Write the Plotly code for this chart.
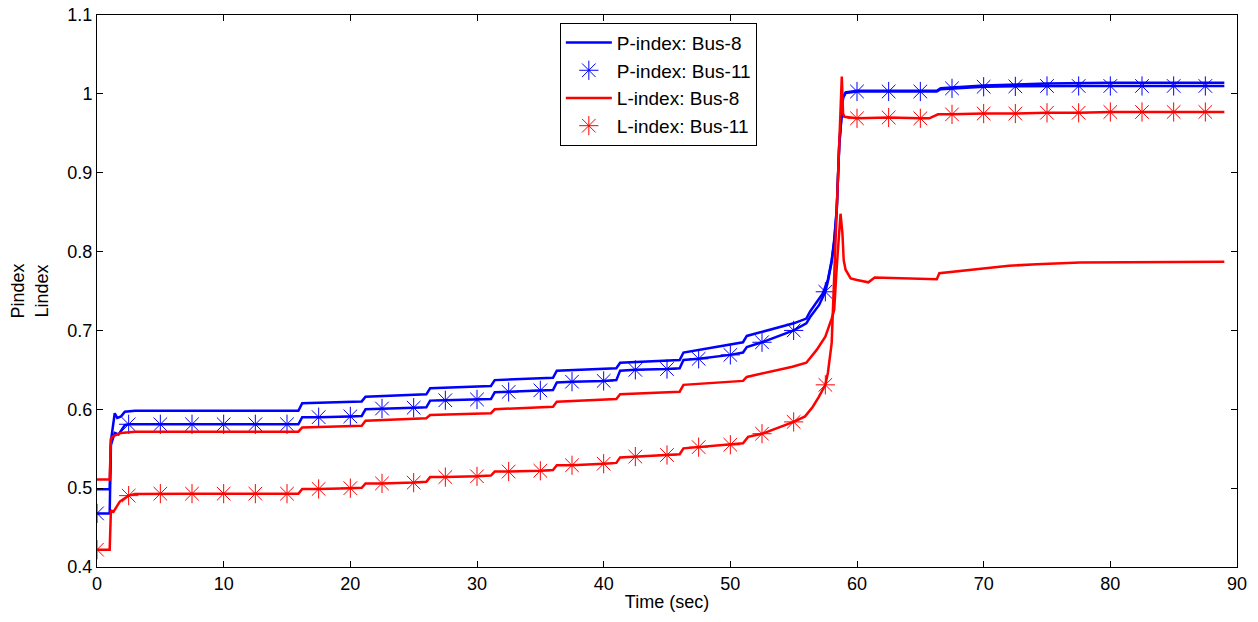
import plotly.graph_objects as go

# ---------------- data ----------------
p8_t = [0, 1.0, 1.1, 1.4, 1.6, 1.9, 2.2, 3.0, 15.9, 16.2, 20.9, 21.2, 26.0, 26.3, 31.1, 31.4,
        36.0, 36.3, 41.0, 41.3, 46.0, 46.3, 51.0, 51.3, 55.0, 56.0, 56.3, 56.8, 57.3, 57.7,
        58.0, 58.2, 58.4, 58.6, 58.9, 59.1, 60, 66.3, 66.6, 70, 75, 80, 89]
p8_v = [0.4985, 0.4985, 0.560, 0.595, 0.589, 0.591, 0.597, 0.598, 0.598, 0.6076, 0.610, 0.616,
        0.619, 0.6266, 0.6295, 0.637, 0.640, 0.649, 0.652, 0.659, 0.6625, 0.672, 0.685, 0.693,
        0.709, 0.715, 0.724, 0.735, 0.747, 0.764, 0.789, 0.812, 0.853, 0.937, 0.996, 1.002,
        1.004, 1.004, 1.007, 1.0105, 1.013, 1.014, 1.014]

p11_t = [0, 1.0, 1.1, 1.4, 1.7, 2.2, 2.5, 5, 7.5, 10, 12.5, 15, 15.9, 16.2, 17.5, 20, 20.9,
         21.2, 22.5, 25, 26.0, 26.3, 27.5, 30, 31.1, 31.4, 32.5, 35, 36.0, 36.3, 37.5, 40,
         41.0, 41.3, 42.5, 45, 46.0, 46.3, 47.5, 50, 51.0, 51.3, 52.5, 55, 56.0, 56.3, 57,
         57.5, 57.7, 58.0, 58.2, 58.4, 58.6, 58.9, 59.1, 60, 62.5, 65, 66.3, 66.6, 67.5, 70,
         72.5, 75, 77.5, 80, 82.5, 85, 87.5, 89]
p11_v = [0.468, 0.468, 0.555, 0.570, 0.568, 0.580, 0.581, 0.581, 0.581, 0.581, 0.581, 0.581,
         0.581, 0.590, 0.590, 0.591, 0.5915, 0.600, 0.601, 0.602, 0.6025, 0.611, 0.6115, 0.6125,
         0.613, 0.6215, 0.622, 0.624, 0.6245, 0.634, 0.635, 0.636, 0.637, 0.649, 0.650, 0.651,
         0.652, 0.6625, 0.664, 0.669, 0.672, 0.679, 0.685, 0.700, 0.709, 0.717, 0.732, 0.749,
         0.762, 0.787, 0.815, 0.853, 0.935, 0.995, 1.001, 1.003, 1.003, 1.003, 1.003, 1.006,
         1.007, 1.009, 1.0095, 1.010, 1.010, 1.010, 1.010, 1.010, 1.010, 1.010]

l8_t = [0, 1.0, 1.1, 1.3, 1.9, 3.0, 15.9, 16.2, 20.9, 21.2, 26.0, 26.3, 31.1, 31.4, 36.0, 36.3,
        41.0, 41.3, 46.0, 46.3, 51.0, 51.3, 54.9, 56.0, 56.8, 57.5, 58.0, 58.2, 58.4, 58.7,
        58.85, 58.95, 59.1, 59.5, 60.0, 60.9, 61.4, 66.3, 66.5, 68.4, 70, 72, 74.2, 77.6, 89]
l8_v = [0.511, 0.511, 0.563, 0.566, 0.570, 0.5715, 0.5716, 0.577, 0.579, 0.5855, 0.5886, 0.5927,
        0.595, 0.600, 0.6033, 0.6096, 0.613, 0.619, 0.6223, 0.631, 0.636, 0.641, 0.654, 0.659,
        0.675, 0.692, 0.715, 0.726, 0.780, 0.848, 0.823, 0.789, 0.777, 0.766, 0.764, 0.761,
        0.767, 0.765, 0.7725, 0.776, 0.779, 0.782, 0.784, 0.786, 0.787]

l11_t = [0, 1.0, 1.1, 1.3, 1.8, 2.3, 2.5, 3.0, 5, 7.5, 10, 12.5, 15, 15.9, 16.2, 17.5, 20, 20.9,
         21.2, 22.5, 25, 26.0, 26.3, 27.5, 30, 31.1, 31.4, 32.5, 35, 36.0, 36.3, 37.5, 40,
         41.0, 41.3, 42.5, 45, 46.0, 46.3, 47.5, 50, 51.0, 51.4, 52.5, 55, 55.9, 56.5, 57,
         57.5, 57.7, 58.0, 58.4, 58.8, 58.9, 59.0, 60, 62.5, 65, 65.7, 66.4, 67.5, 70, 72.5,
         75, 77.5, 80, 82.5, 85, 87.5, 89]
l11_v = [0.422, 0.422, 0.472, 0.470, 0.483, 0.489, 0.4905, 0.4925, 0.493, 0.493, 0.493, 0.493,
         0.493, 0.493, 0.499, 0.499, 0.500, 0.5005, 0.506, 0.506, 0.507, 0.508, 0.514, 0.514,
         0.515, 0.516, 0.521, 0.521, 0.522, 0.523, 0.529, 0.529, 0.531, 0.532, 0.539, 0.540,
         0.542, 0.543, 0.5505, 0.552, 0.555, 0.557, 0.565, 0.569, 0.584, 0.591, 0.603, 0.616,
         0.631, 0.646, 0.684, 0.850, 1.022, 0.975, 0.971, 0.969, 0.970, 0.969, 0.969, 0.974,
         0.974, 0.975, 0.975, 0.976, 0.976, 0.977, 0.977, 0.977, 0.977, 0.977]

marker_step = 2.5
x_ticks = [0, 10, 20, 30, 40, 50, 60, 70, 80, 90]
y_ticks = [0.4, 0.5, 0.6, 0.7, 0.8, 0.9, 1.0, 1.1]

BLUE = "#0000FF"
RED = "#FF0000"
FONT = "Liberation Sans, Arial, sans-serif"


def marker_points(ts, vs):
    xs, ys = [], []
    for t, v in zip(ts, vs):
        if abs(t / marker_step - round(t / marker_step)) < 1e-9:
            xs.append(t)
            ys.append(v)
    return xs, ys


fig = go.Figure()
LW = 2.5
MS = 16

fig.add_trace(go.Scatter(x=p8_t, y=p8_v, mode="lines", name="P-index: Bus-8",
                         line=dict(color=BLUE, width=LW)))
fig.add_trace(go.Scatter(x=p11_t, y=p11_v, mode="lines", showlegend=False,
                         line=dict(color=BLUE, width=LW)))
mx, my = marker_points(p11_t, p11_v)
fig.add_trace(go.Scatter(x=mx, y=my, mode="markers", name="P-index: Bus-11",
                         marker=dict(symbol="asterisk-open", size=MS, color=BLUE,
                                     line=dict(color=BLUE, width=1))))
fig.add_trace(go.Scatter(x=l8_t, y=l8_v, mode="lines", name="L-index: Bus-8",
                         line=dict(color=RED, width=LW)))
fig.add_trace(go.Scatter(x=l11_t, y=l11_v, mode="lines", showlegend=False,
                         line=dict(color=RED, width=LW)))
mx, my = marker_points(l11_t, l11_v)
fig.add_trace(go.Scatter(x=mx, y=my, mode="markers", name="L-index: Bus-11",
                         marker=dict(symbol="asterisk-open", size=MS, color=RED,
                                     line=dict(color=RED, width=1))))

axis_common = dict(showline=True, linecolor="black", linewidth=1, mirror="allticks",
                   ticks="inside", ticklen=6, tickcolor="black", showgrid=False,
                   zeroline=False, automargin=False,
                   tickfont=dict(family=FONT, size=18, color="black"))

fig.update_xaxes(range=[0, 90], tickvals=x_ticks, ticktext=[str(v) for v in x_ticks],
                 title=dict(text="Time (sec)", font=dict(family=FONT, size=18, color="black"),
                            standoff=2),
                 **axis_common)
fig.update_yaxes(range=[0.4, 1.1], tickvals=y_ticks,
                 ticktext=[("%g" % v) for v in y_ticks],
                 title=dict(text="Pindex<br>Lindex", font=dict(family=FONT, size=18, color="black"),
                            standoff=14),
                 **axis_common)

fig.update_layout(
    width=1258, height=622,
    margin=dict(l=97, r=21, t=15, b=55),
    plot_bgcolor="white", paper_bgcolor="white",
    font=dict(family=FONT, size=18, color="black"),
    legend=dict(x=0.406, y=0.986, xanchor="left", yanchor="top",
                bgcolor="white", bordercolor="black", borderwidth=1,
                font=dict(family=FONT, size=19, color="black"),
                tracegroupgap=0, itemwidth=46),
)

fig.write_html("out.html")
